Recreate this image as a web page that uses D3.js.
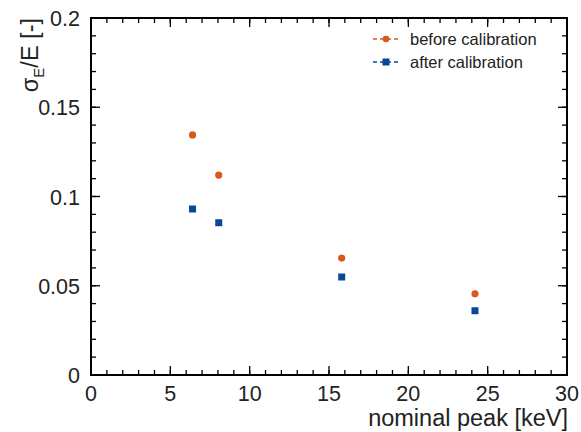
<!DOCTYPE html>
<html>
<head>
<meta charset="utf-8">
<script src="https://cdnjs.cloudflare.com/ajax/libs/d3/7.8.5/d3.min.js"></script>
<style>
body { margin: 0; background: white; }
svg { font-family: "Liberation Sans", Arial, sans-serif; }
</style>
</head>
<body>
<svg id="chart" width="581" height="432"></svg>
<script>
// data
var peaks = [6.4, 8.05, 15.8, 24.2];
var before = [0.1345, 0.112, 0.0655, 0.0455];
var after = [0.093, 0.0853, 0.0549, 0.036];
var seriesNames = ["before calibration", "after calibration"];
var xTicks = [0, 5, 10, 15, 20, 25, 30];
var yTicks = [0, 0.05, 0.1, 0.15, 0.2];
var yTickLabels = ["0", "0.05", "0.1", "0.15", "0.2"];

var orange = "#d9581e", blue = "#0a479c";

var svg = d3.select("#chart");
// plot box edges (note: "top" is reserved on window)
var pLeft = 91, pRight = 567, pTop = 18, pBottom = 375;

var x = d3.scaleLinear().domain([0, 30]).range([pLeft, pRight]);
var y = d3.scaleLinear().domain([0, 0.2]).range([pBottom, pTop]);

// minor + major ticks on all four sides, pointing inward
var xMinor = d3.range(0, 31, 1);
var yMinor = d3.range(0, 0.2001, 0.01);

function tickLines(vals, isMajor, horiz) {
  var len = isMajor ? 9 : 5;
  svg.append("g").selectAll("line").data(vals).enter().append("line")
    .attr("x1", d => horiz ? x(d) : pLeft)
    .attr("x2", d => horiz ? x(d) : pLeft + len)
    .attr("y1", d => horiz ? pBottom : y(d))
    .attr("y2", d => horiz ? pBottom - len : y(d))
    .attr("stroke", "black").attr("stroke-width", 1.3);
  svg.append("g").selectAll("line").data(vals).enter().append("line")
    .attr("x1", d => horiz ? x(d) : pRight)
    .attr("x2", d => horiz ? x(d) : pRight - len)
    .attr("y1", d => horiz ? pTop : y(d))
    .attr("y2", d => horiz ? pTop + len : y(d))
    .attr("stroke", "black").attr("stroke-width", 1.3);
}
tickLines(xMinor, false, true);
tickLines(xTicks, true, true);
tickLines(yMinor, false, false);
tickLines(yTicks, true, false);

svg.append("rect")
  .attr("x", pLeft).attr("y", pTop)
  .attr("width", pRight - pLeft).attr("height", pBottom - pTop)
  .attr("fill", "none").attr("stroke", "black").attr("stroke-width", 2);

// tick labels
svg.append("g").selectAll("text").data(xTicks).enter().append("text")
  .attr("x", d => x(d)).attr("y", 401)
  .attr("text-anchor", "middle").attr("font-size", 21.5)
  .attr("fill", "#222").text(d => d);

svg.append("g").selectAll("text").data(yTicks).enter().append("text")
  .attr("x", 80).attr("y", d => y(d) + 8)
  .attr("text-anchor", "end").attr("font-size", 21.5)
  .attr("fill", "#222").text((d, i) => yTickLabels[i]);

// axis titles
svg.append("text")
  .attr("x", pRight + 1).attr("y", 425.5)
  .attr("text-anchor", "end").attr("font-size", 23.5)
  .attr("fill", "#222").text("nominal peak [keV]");

var yt = svg.append("text")
  .attr("transform", "translate(38," + pTop + ") rotate(-90)")
  .attr("text-anchor", "end").attr("font-size", 23.5).attr("fill", "#222");
yt.append("tspan").text("σ");
yt.append("tspan").attr("font-size", 15).attr("dy", 6).text("E");
yt.append("tspan").attr("dy", -6).text("/E [-]");

// markers
svg.append("g").selectAll("circle").data(peaks).enter().append("circle")
  .attr("cx", d => x(d)).attr("cy", (d, i) => y(before[i]))
  .attr("r", 3.6).attr("fill", orange);

svg.append("g").selectAll("rect").data(peaks).enter().append("rect")
  .attr("x", d => x(d) - 3.5).attr("y", (d, i) => y(after[i]) - 3.5)
  .attr("width", 7).attr("height", 7).attr("fill", blue);

// legend
var legend = svg.append("g");
[orange, blue].forEach(function(c, i) {
  var ly = 39 + i * 23;
  legend.append("line")
    .attr("x1", 373).attr("x2", 399).attr("y1", ly).attr("y2", ly)
    .attr("stroke", c).attr("stroke-width", 1.5).attr("stroke-dasharray", "4,3");
  if (i === 0) {
    legend.append("circle").attr("cx", 386).attr("cy", ly).attr("r", 3.3).attr("fill", c);
  } else {
    legend.append("rect").attr("x", 382.5).attr("y", ly - 3.5)
      .attr("width", 7).attr("height", 7).attr("fill", c);
  }
  legend.append("text")
    .attr("x", 410).attr("y", ly + 5.5)
    .attr("font-size", 16.5).attr("fill", "#222").text(seriesNames[i]);
});
</script>
</body>
</html>
